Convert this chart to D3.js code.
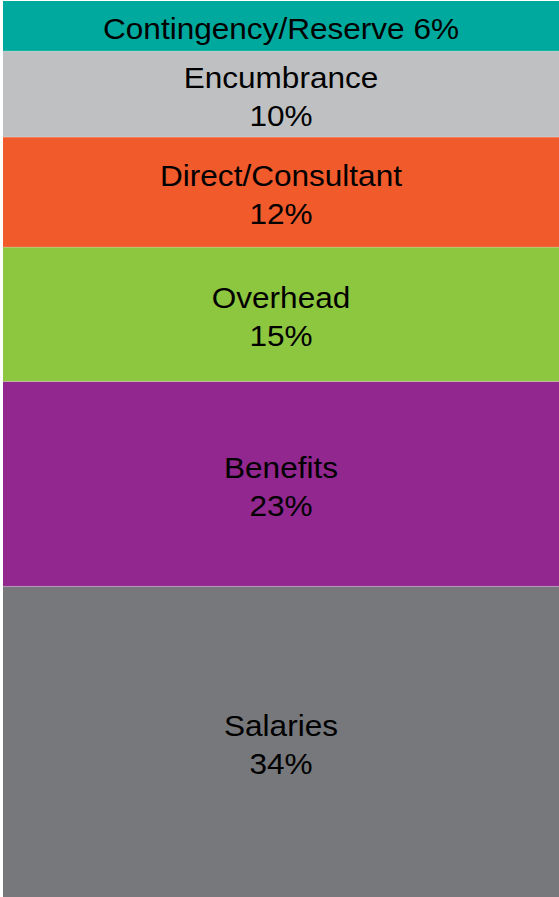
<!DOCTYPE html>
<html>
<head>
<meta charset="utf-8">
<script src="https://cdn.jsdelivr.net/npm/d3@7/dist/d3.min.js"></script>
<style>
  html, body { margin: 0; padding: 0; background: #fff; }
  svg { display: block; }
</style>
</head>
<body>
<div id="chart"></div>
<script>
// categories from bottom of the stack to the top
const categories = ['Salaries', 'Benefits', 'Overhead', 'Direct/Consultant', 'Encumbrance', 'Contingency/Reserve']
// shares
const shares = [34.7, 22.9, 15.0, 12.3, 9.6, 5.6]
// percent labels as printed on the chart
const pctLabels = ['34%', '23%', '15%', '12%', '10%', '6%']
const colors = ['#77787b', '#92278f', '#8dc63f', '#f15a2b', '#bfc0c2', '#00a99d']

const width = 559, height = 897
const margin = { top: 1, right: 0, bottom: 0, left: 3 }

const svg = d3.select('#chart')
  .append('svg')
  .attr('width', width)
  .attr('height', height)

const g = svg.append('g')

// stack the single bar
let acc = 0
const segs = categories.map((c, i) => {
  const s = { name: c, pct: pctLabels[i], color: colors[i], y0: acc, y1: acc + shares[i] }
  acc += shares[i]
  return s
})

const yScale = d3.scaleLinear()
  .domain([0, d3.sum(shares)])
  .range([height - margin.bottom, margin.top])

const xScale = d3.scaleBand()
  .domain(['budget'])
  .range([margin.left, width - margin.right])
  .padding(0)

g.selectAll('rect')
  .data(segs)
  .enter()
  .append('rect')
  .attr('x', xScale('budget'))
  .attr('width', xScale.bandwidth())
  .attr('y', d => yScale(d.y1))
  .attr('height', d => yScale(d.y0) - yScale(d.y1))
  .style('fill', d => d.color)

// thin light seams between segments
g.selectAll('line.seam')
  .data(segs.slice(0, -1))
  .enter()
  .append('line')
  .attr('class', 'seam')
  .attr('x1', xScale('budget'))
  .attr('x2', xScale('budget') + xScale.bandwidth())
  .attr('y1', d => yScale(d.y1))
  .attr('y2', d => yScale(d.y1))
  .style('stroke', '#ffffff')
  .style('stroke-opacity', 0.25)
  .style('stroke-width', 1)

const cx = xScale('budget') + xScale.bandwidth() / 2

const labels = g.selectAll('g.lbl')
  .data(segs)
  .enter()
  .append('g')
  .attr('class', 'lbl')

labels.each(function(d) {
  const top = yScale(d.y1), bot = yScale(d.y0)
  const mid = (top + bot) / 2
  const sel = d3.select(this)
  const lines = (bot - top) < 60 ? [[d.name + ' ' + d.pct, mid + 13]] : [[d.name, mid - 6], [d.pct, mid + 32]]
  lines.forEach(([txt, y]) => {
    sel.append('text')
      .attr('transform', `translate(${cx}, ${y}) scale(1.07, 1)`)
      .style('text-anchor', 'middle')
      .style('font-family', '"Liberation Sans", Arial, sans-serif')
      .style('font-size', '29.5px')
      .style('fill', '#000')
      .text(txt)
  })
})
</script>
</body>
</html>
